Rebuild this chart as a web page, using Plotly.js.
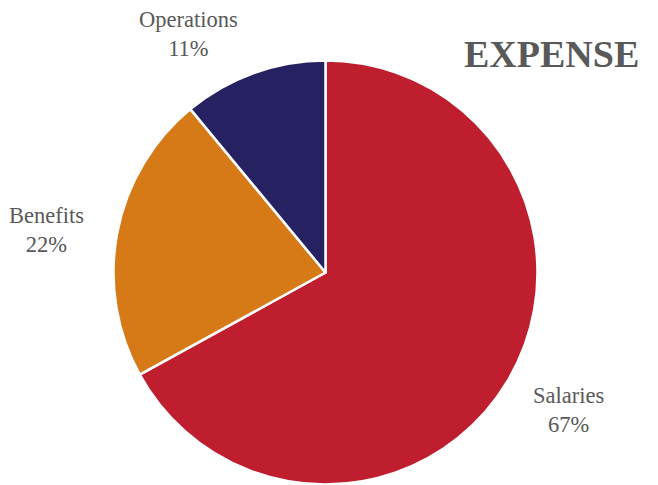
<!DOCTYPE html>
<html>
<head>
<meta charset="utf-8">
<script src="https://cdn.plot.ly/plotly-3.0.1.min.js"></script>
<style>html,body{margin:0;padding:0;background:#fff;}#chart{width:658px;height:485px;}</style>
</head>
<body>
<div id="chart"></div>
<script>
const categories = ["Salaries", "Benefits", "Operations"];
const values = [67, 22, 11];
const colors = ["#BE1E2D", "#D57A16", "#262262"];
const chartTitle = "EXPENSE";

const total = values.reduce((a, b) => a + b, 0);
const pct = values.map(v => Math.round(v / total * 100) + "%");

// label anchor positions (paper coords)
const labelPos = [
  {x: 568 / 658, y: 1 - 410 / 485},
  {x: 46 / 658, y: 1 - 230 / 485},
  {x: 188 / 658, y: 1 - 34 / 485}
];

const labelFont = {family: "Liberation Serif, Times New Roman, serif", size: 22.5, color: "#595959"};

const annotations = categories.map((c, i) => ({
  xref: "paper", yref: "paper", x: labelPos[i].x, y: labelPos[i].y,
  text: c + "<br>" + pct[i], showarrow: false, font: labelFont,
  xanchor: "center", yanchor: "middle", align: "center"
}));
annotations.push({
  xref: "paper", yref: "paper", x: 641 / 658, y: 1 - 54 / 485,
  text: "<b>" + chartTitle + "</b>", showarrow: false,
  font: {family: "Liberation Serif, Times New Roman, serif", size: 38, color: "#595959"},
  xanchor: "right", yanchor: "middle"
});

const trace = {
  type: "pie",
  labels: categories,
  values: values,
  sort: false,
  direction: "clockwise",
  rotation: 0,
  textinfo: "none",
  hoverinfo: "label+percent",
  marker: {colors: colors, line: {color: "#ffffff", width: 2.5}},
  domain: {x: [(325.5 - 212) / 658, (325.5 + 212) / 658], y: [0.5 / 485, 424.5 / 485]}
};

Plotly.newPlot("chart", [trace], {
  width: 658, height: 485,
  margin: {l: 0, r: 0, t: 0, b: 0},
  showlegend: false,
  paper_bgcolor: "#ffffff",
  annotations: annotations
}, {displayModeBar: false, staticPlot: true});
</script>
</body>
</html>
